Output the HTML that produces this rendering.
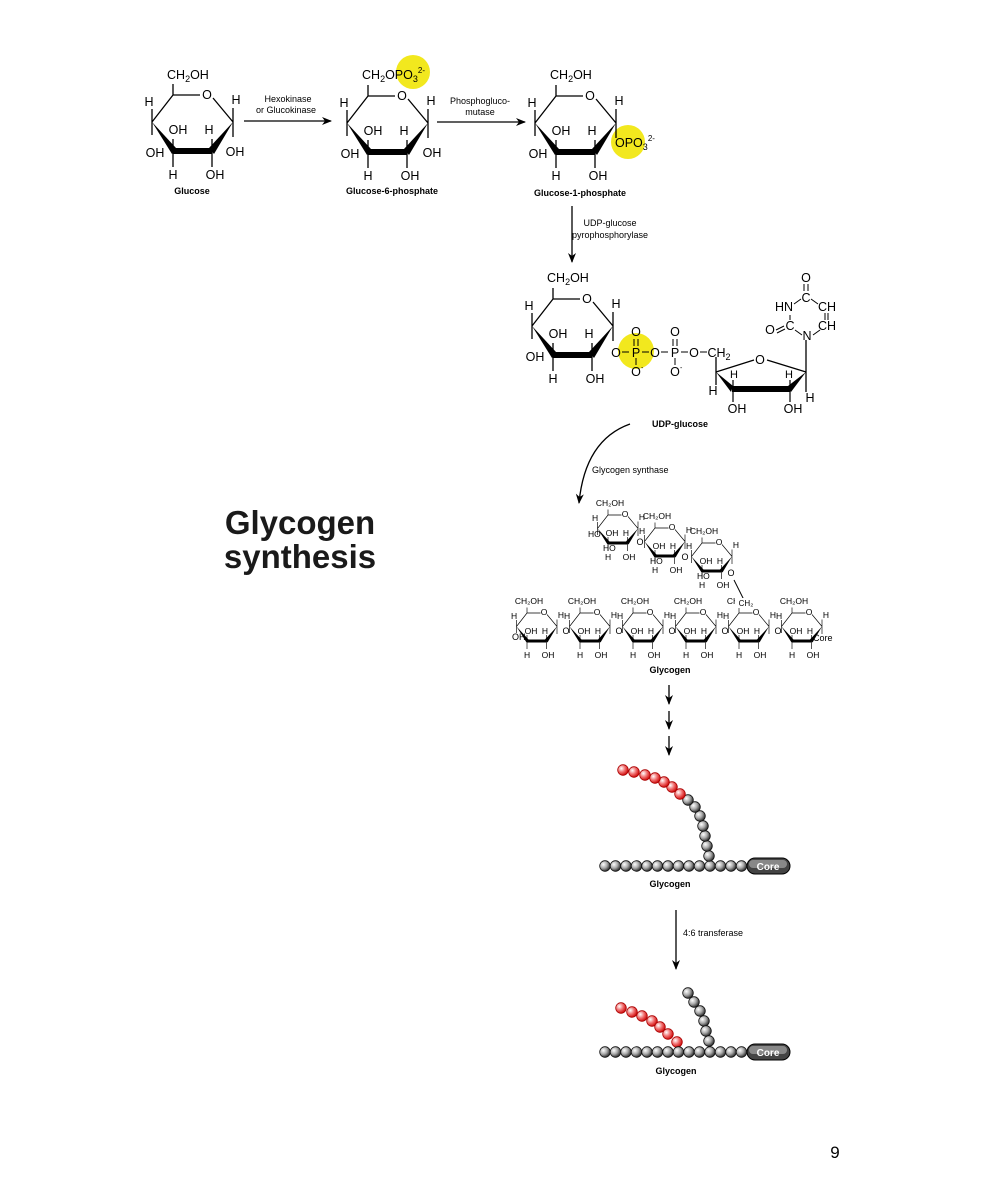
<!DOCTYPE html>
<html><head><meta charset="utf-8"><style>
html,body{margin:0;padding:0;background:#fff;}
svg{display:block;font-family:"Liberation Sans",sans-serif;}
.l{font-size:12.5px;}
.s{font-size:9px;}
.m{font-size:17px;}
</style></head><body>
<svg width="988" height="1193" viewBox="0 0 988 1193" xmlns="http://www.w3.org/2000/svg">
<defs>
<radialGradient id="gb" cx="0.35" cy="0.35" r="0.7"><stop offset="0" stop-color="#fff"/><stop offset="0.5" stop-color="#aaa"/><stop offset="1" stop-color="#222"/></radialGradient>
<radialGradient id="gr" cx="0.35" cy="0.35" r="0.7"><stop offset="0" stop-color="#fff"/><stop offset="0.5" stop-color="#f07070"/><stop offset="1" stop-color="#c00"/></radialGradient>
<marker id="ah" markerWidth="10" markerHeight="10" refX="9" refY="5" orient="auto" markerUnits="userSpaceOnUse"><path d="M0,1 L10,5 L0,9 L3,5 Z" fill="#000"/></marker>
<g id="ringL">
 <path d="M-21,27 L0,0 L27,0 M40,3 L60,27 M-21,14 L-21,40 M60,13 L60,42 M0,44 L0,72 M39,44 L39,72 M0,0 L0,-11" stroke="#000" stroke-width="1.3" fill="none"/>
 <polygon points="-21,27 -1,59 3,53" fill="#000"/>
 <rect x="0" y="53" width="39" height="6" fill="#000"/>
 <polygon points="36,53 41,59 60,27" fill="#000"/>
 <text x="34" y="4" text-anchor="middle">O</text>
</g>
<g id="ring" class="l">
 <use href="#ringL"/>
 <text x="-24" y="11" text-anchor="middle">H</text>
 <text x="63" y="9" text-anchor="middle">H</text>
 <text x="5" y="39" text-anchor="middle">OH</text>
 <text x="36" y="39" text-anchor="middle">H</text>
 <text x="-18" y="62" text-anchor="middle">OH</text>
 <text x="0" y="84" text-anchor="middle">H</text>
 <text x="42" y="84" text-anchor="middle">OH</text>
</g>
<g id="mini" class="m">
 <use href="#ringL"/>
 <text x="-26" y="12" text-anchor="middle">H</text>
 <text x="68" y="10" text-anchor="middle">H</text>
 <text x="8" y="42" text-anchor="middle">OH</text>
 <text x="36" y="42" text-anchor="middle">H</text>
 <text x="0" y="90" text-anchor="middle">H</text>
 <text x="42" y="90" text-anchor="middle">OH</text>
 <text x="4" y="-18" text-anchor="middle">CH₂OH</text>
</g>
<circle id="b" r="5.3" fill="url(#gb)" stroke="#111" stroke-width="0.8"/>
<circle id="r" r="5.3" fill="url(#gr)" stroke="#a00" stroke-width="0.8"/>
</defs>

<!-- yellow highlights -->
<circle cx="413" cy="72" r="17" fill="#f2e81e"/>
<circle cx="628" cy="142" r="17" fill="#f2e81e"/>
<circle cx="636" cy="351" r="18" fill="#f2e81e"/>

<!-- Glucose -->
<g transform="translate(173,95)"><use href="#ring"/>
<text class="l" x="-6" y="-16">CH<tspan font-size="9" dy="3">2</tspan><tspan dy="-3">OH</tspan></text>
<text class="l" x="62" y="61" text-anchor="middle">OH</text></g>
<text x="192" y="194" font-size="9" font-weight="bold" text-anchor="middle">Glucose</text>

<line x1="244" y1="121" x2="331" y2="121" stroke="#000" stroke-width="1.3" marker-end="url(#ah)"/>
<text x="288" y="102" font-size="9" text-anchor="middle">Hexokinase</text>
<text x="286" y="113" font-size="9" text-anchor="middle">or Glucokinase</text>

<!-- G6P -->
<g transform="translate(368,96)"><use href="#ring"/>
<text class="l" x="-6" y="-17">CH<tspan font-size="9" dy="3">2</tspan><tspan dy="-3">OPO</tspan><tspan font-size="9" dy="3">3</tspan><tspan font-size="8" dy="-9">2-</tspan></text>
<text class="l" x="64" y="61" text-anchor="middle">OH</text></g>
<text x="392" y="194" font-size="9" font-weight="bold" text-anchor="middle">Glucose-6-phosphate</text>

<line x1="437" y1="122" x2="525" y2="122" stroke="#000" stroke-width="1.3" marker-end="url(#ah)"/>
<text x="480" y="104" font-size="9" text-anchor="middle">Phosphogluco-</text>
<text x="480" y="115" font-size="9" text-anchor="middle">mutase</text>

<!-- G1P -->
<g transform="translate(556,96)"><use href="#ring"/>
<text class="l" x="-6" y="-17">CH<tspan font-size="9" dy="3">2</tspan><tspan dy="-3">OH</tspan></text>
<text class="l" x="59" y="51">OPO<tspan font-size="9" dy="3">3</tspan><tspan font-size="8" dy="-9">2-</tspan></text></g>
<text x="580" y="196" font-size="9" font-weight="bold" text-anchor="middle">Glucose-1-phosphate</text>

<line x1="572" y1="206" x2="572" y2="262" stroke="#000" stroke-width="1.3" marker-end="url(#ah)"/>
<text x="610" y="226" font-size="9" text-anchor="middle">UDP-glucose</text>
<text x="610" y="238" font-size="9" text-anchor="middle">pyrophosphorylase</text>

<!-- UDP-glucose -->
<g transform="translate(553,299)"><use href="#ring"/>
<text class="l" x="-6" y="-17">CH<tspan font-size="9" dy="3">2</tspan><tspan dy="-3">OH</tspan></text></g>
<g class="l" text-anchor="middle">
<text x="616" y="357">O</text><line x1="622" y1="352" x2="629" y2="352" stroke="#000"/>
<text x="636" y="357">P</text><line x1="642" y1="352" x2="649" y2="352" stroke="#000"/>
<text x="655" y="357">O</text><line x1="661" y1="352" x2="668" y2="352" stroke="#000"/>
<text x="675" y="357">P</text><line x1="681" y1="352" x2="688" y2="352" stroke="#000"/>
<text x="694" y="357">O</text><line x1="700" y1="352" x2="707" y2="352" stroke="#000"/>
<text x="719" y="357">CH<tspan font-size="9" dy="3">2</tspan></text>
<text x="636" y="336">O</text><text x="675" y="336">O</text>
<text x="636" y="376">O</text><text x="675" y="376">O</text>
</g>
<path d="M634,339 L634,346 M638,339 L638,346 M673,339 L673,346 M677,339 L677,346 M636,358 L636,365 M675,358 L675,365" stroke="#000" stroke-width="1"/>
<text x="641" y="370" font-size="7">-</text><text x="680" y="370" font-size="7">-</text>
<!-- ribose -->
<path d="M716,357 L716,372 L754,360 M767,360 L806,372 M716,372 L716,385 M806,372 L806,392 M806,372 L806,340" stroke="#000" stroke-width="1.3" fill="none"/>
<text class="l" x="760" y="364" text-anchor="middle">O</text>
<polygon points="716,372 733,386 731,392" fill="#000"/>
<rect x="732" y="386" width="58" height="6" fill="#000"/>
<polygon points="788,386 791,392 806,372" fill="#000"/>
<path d="M733,380 L733,392 L733,402 M790,380 L790,402" stroke="#000" stroke-width="1.2"/>
<g class="l" text-anchor="middle">
<text x="734" y="378" font-size="11">H</text><text x="789" y="378" font-size="11">H</text>
<text x="713" y="395">H</text><text x="810" y="402">H</text>
<text x="737" y="413">OH</text><text x="793" y="413">OH</text>
<!-- uracil -->
<text x="807" y="340">N</text>
<text x="790" y="330">C</text>
<text x="784" y="311">HN</text>
<text x="806" y="302">C</text>
<text x="806" y="282">O</text>
<text x="827" y="311">CH</text>
<text x="827" y="330">CH</text>
<text x="770" y="334">O</text>
</g>
<path d="M804,284 L804,291 M808,284 L808,291 M790,315 L790,320 M794,304 L801,299 M811,299 L818,304 M825,313 L825,320 M828,313 L828,320 M795,330 L802,335 M813,335 L820,330 M776,330 L784,326 M777,333 L785,329" stroke="#000" stroke-width="1"/>
<text x="680" y="427" font-size="9" font-weight="bold" text-anchor="middle">UDP-glucose</text>

<!-- curved arrow -->
<path d="M630,424 Q585,440 579,503" stroke="#000" stroke-width="1.3" fill="none" marker-end="url(#ah)"/>
<text x="592" y="473" font-size="9">Glycogen synthase</text>

<text x="300" y="534" font-size="33" font-weight="bold" text-anchor="middle" fill="#1a1a1a">Glycogen</text>
<text x="300" y="568" font-size="33" font-weight="bold" text-anchor="middle" fill="#1a1a1a">synthesis</text>

<!-- glycogen structure -->
<g transform="translate(608,515) scale(0.5)"><use href="#mini"/><text class="m" x="-40" y="44">HO</text><text class="m" x="-10" y="72">HO</text></g>
<g transform="translate(655,528) scale(0.5)"><use href="#mini"/><text class="m" x="-10" y="72">HO</text></g>
<g transform="translate(702,543) scale(0.5)"><use href="#mini"/><text class="m" x="-10" y="72">HO</text></g>
<g class="s" text-anchor="middle"><text x="640" y="545">O</text><text x="685" y="560">O</text><text x="731" y="576">O</text></g>
<path d="M734,580 L744,600" stroke="#000" stroke-width="1"/>
<g transform="translate(527,613) scale(0.5)"><use href="#mini"/></g>
<g transform="translate(580,613) scale(0.5)"><use href="#mini"/></g>
<g transform="translate(633,613) scale(0.5)"><use href="#mini"/></g>
<g transform="translate(686,613) scale(0.5)"><use href="#mini"/></g>
<g transform="translate(739,613) scale(0.5)"><use href="#mini"/></g>
<g transform="translate(792,613) scale(0.5)"><use href="#mini"/></g>
<rect x="735" y="598" width="22" height="10" fill="#fff"/>
<text x="746" y="606" font-size="8" text-anchor="middle">CH₂</text>
<g class="s" text-anchor="middle"><text x="566" y="634">O</text><text x="619" y="634">O</text><text x="672" y="634">O</text><text x="725" y="634">O</text><text x="778" y="634">O</text></g>
<text x="512" y="640" class="s">OH</text>
<text x="813" y="641" class="s">Core</text>
<text x="670" y="673" font-size="9" font-weight="bold" text-anchor="middle">Glycogen</text>

<line x1="669" y1="685" x2="669" y2="704" stroke="#000" stroke-width="1.3" marker-end="url(#ah)"/>
<line x1="669" y1="711" x2="669" y2="729" stroke="#000" stroke-width="1.3" marker-end="url(#ah)"/>
<line x1="669" y1="736" x2="669" y2="755" stroke="#000" stroke-width="1.3" marker-end="url(#ah)"/>

<!-- bead chain 1 -->
<g>
<use href="#b" x="605" y="866"/><use href="#b" x="615.5" y="866"/><use href="#b" x="626" y="866"/><use href="#b" x="636.5" y="866"/><use href="#b" x="647" y="866"/><use href="#b" x="657.5" y="866"/><use href="#b" x="668" y="866"/><use href="#b" x="678.5" y="866"/><use href="#b" x="689" y="866"/><use href="#b" x="699.5" y="866"/><use href="#b" x="710" y="866"/><use href="#b" x="720.5" y="866"/><use href="#b" x="731" y="866"/><use href="#b" x="741.5" y="866"/>
<use href="#b" x="709" y="856"/><use href="#b" x="707" y="846"/><use href="#b" x="705" y="836"/><use href="#b" x="703" y="826"/><use href="#b" x="700" y="816"/><use href="#b" x="695" y="807"/><use href="#b" x="688" y="800"/>
<use href="#r" x="680" y="794"/><use href="#r" x="672" y="787"/><use href="#r" x="664" y="782"/><use href="#r" x="655" y="778"/><use href="#r" x="645" y="775"/><use href="#r" x="634" y="772"/><use href="#r" x="623" y="770"/>
</g>
<rect x="747" y="858" width="43" height="16" rx="8" fill="#444" stroke="#000"/>
<rect x="749" y="860" width="38" height="8" rx="4" fill="#888"/>
<text x="768" y="870" font-size="10" font-weight="bold" fill="#fff" text-anchor="middle">Core</text>
<text x="670" y="887" font-size="9" font-weight="bold" text-anchor="middle">Glycogen</text>

<line x1="676" y1="910" x2="676" y2="969" stroke="#000" stroke-width="1.3" marker-end="url(#ah)"/>
<text x="683" y="936" font-size="9">4:6 transferase</text>

<!-- bead chain 2 -->
<g>
<use href="#r" x="621" y="1008"/><use href="#r" x="632" y="1012"/><use href="#r" x="642" y="1016"/><use href="#r" x="652" y="1021"/><use href="#r" x="660" y="1027"/><use href="#r" x="668" y="1034"/><use href="#r" x="677" y="1042"/>
<use href="#b" x="688" y="993"/><use href="#b" x="694" y="1002"/><use href="#b" x="700" y="1011"/><use href="#b" x="704" y="1021"/><use href="#b" x="706" y="1031"/><use href="#b" x="709" y="1041"/>
<use href="#b" x="605" y="1052"/><use href="#b" x="615.5" y="1052"/><use href="#b" x="626" y="1052"/><use href="#b" x="636.5" y="1052"/><use href="#b" x="647" y="1052"/><use href="#b" x="657.5" y="1052"/><use href="#b" x="668" y="1052"/><use href="#b" x="678.5" y="1052"/><use href="#b" x="689" y="1052"/><use href="#b" x="699.5" y="1052"/><use href="#b" x="710" y="1052"/><use href="#b" x="720.5" y="1052"/><use href="#b" x="731" y="1052"/><use href="#b" x="741.5" y="1052"/>
</g>
<rect x="747" y="1044" width="43" height="16" rx="8" fill="#444" stroke="#000"/>
<rect x="749" y="1046" width="38" height="8" rx="4" fill="#888"/>
<text x="768" y="1056" font-size="10" font-weight="bold" fill="#fff" text-anchor="middle">Core</text>
<text x="676" y="1074" font-size="9" font-weight="bold" text-anchor="middle">Glycogen</text>

<text x="835" y="1158" font-size="17" text-anchor="middle">9</text>
</svg>
</body></html>
